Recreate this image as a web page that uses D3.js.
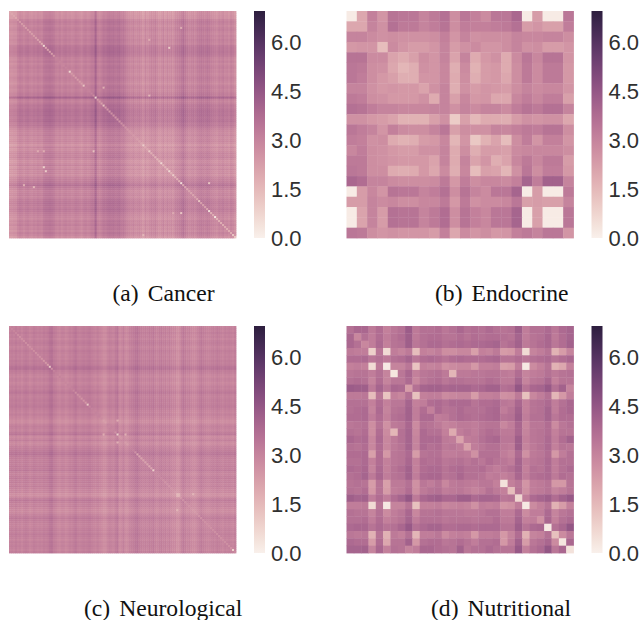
<!DOCTYPE html>
<html>
<head>
<meta charset="utf-8">
<script src="https://cdn.jsdelivr.net/npm/d3@7"></script>
<style>
  html, body { margin: 0; padding: 0; background: #fff; }
  svg { display: block; }
  .cbar text { font-family: "Liberation Sans", sans-serif; font-size: 22px; fill: #303030; }
  .caption { font-family: "Liberation Serif", serif; font-size: 23.6px; fill: #111; }
</style>
</head>
<body>
<svg id="chart" width="644" height="620"></svg>
<script>
const colorbarTicks = [0, 1.5, 3, 4.5, 6];
const colorMax = 6.95;

const endocrine = [
  [0.15,2.0,3.1,2.5,3.5,3.4,3.4,3.0,3.3,3.6,2.7,3.4,3.1,2.8,3.4,3.4,3.9,0.15,2.3,0.15,0.15,3.4],
  [2.0,2.0,3.0,2.6,3.6,3.3,3.3,3.0,3.2,3.5,2.7,3.2,3.1,3.1,3.2,3.3,3.6,2.3,2.5,2.2,2.2,3.2],
  [3.0,3.0,2.8,2.6,2.7,2.6,2.6,2.6,2.7,3.1,2.5,3.0,2.6,2.7,2.7,2.7,3.0,2.9,2.9,3.0,3.0,2.7],
  [2.4,2.5,2.5,1.4,2.8,2.5,2.3,2.3,2.5,3.0,2.3,2.6,2.8,2.5,2.5,2.7,3.0,2.6,2.7,2.3,2.3,2.5],
  [3.5,3.5,2.8,2.8,2.1,1.9,2.2,2.7,2.5,3.0,2.1,3.0,1.9,2.4,2.6,1.9,2.8,3.4,2.9,3.5,3.5,2.5],
  [3.4,3.3,2.7,2.6,2.0,1.6,1.8,2.6,2.5,2.9,1.8,2.8,1.7,2.3,2.4,1.9,2.7,3.3,2.8,3.3,3.3,2.4],
  [3.4,3.2,2.7,2.4,2.2,1.8,1.8,2.5,2.5,2.9,1.9,2.7,1.8,2.3,2.4,2.0,2.7,3.3,2.8,3.3,3.3,2.4],
  [3.0,3.0,2.6,2.4,2.5,2.4,2.4,2.1,2.6,3.0,1.8,2.6,2.3,2.5,2.4,2.3,2.7,3.0,2.8,2.9,2.9,2.5],
  [3.3,3.2,2.7,2.6,2.4,2.4,2.4,2.6,1.9,3.0,2.2,2.9,2.4,2.5,2.0,2.0,2.9,3.2,2.9,3.2,3.2,2.2],
  [3.6,3.5,3.2,3.0,3.0,2.9,2.9,2.9,3.0,3.0,2.6,3.0,2.8,3.0,3.0,2.8,3.2,3.5,3.3,3.6,3.6,3.0],
  [2.6,2.6,2.4,2.3,2.1,1.7,1.7,1.7,2.2,2.6,1.0,2.2,1.5,1.9,1.9,1.8,2.3,2.6,2.5,2.6,2.6,2.0],
  [3.4,3.2,3.0,2.5,3.1,2.8,2.7,2.7,3.0,3.4,2.2,2.7,2.6,2.6,3.0,2.9,3.1,3.3,3.2,3.5,3.5,2.7],
  [3.2,3.1,2.6,2.7,1.9,1.7,1.8,2.3,2.4,2.9,1.6,2.5,1.1,1.7,2.1,1.4,2.7,3.2,2.5,3.1,3.1,2.5],
  [2.9,3.2,2.7,2.6,2.4,2.3,2.3,2.6,2.6,3.0,1.9,2.7,1.8,2.3,2.3,2.2,2.8,2.9,2.9,2.9,2.9,2.7],
  [3.3,3.3,2.7,2.6,2.5,2.4,2.4,2.4,2.1,3.0,1.9,3.0,2.1,2.5,1.8,2.1,2.9,3.3,2.9,3.3,3.3,2.3],
  [3.4,3.3,2.7,2.7,1.9,1.8,1.9,2.4,2.0,2.8,1.8,2.9,1.4,2.2,2.1,1.6,2.6,3.4,2.7,3.2,3.2,2.4],
  [3.9,3.7,3.0,3.0,2.8,2.7,2.7,2.7,2.8,3.3,2.4,3.2,2.7,2.9,2.9,2.8,3.1,4.0,3.2,4.1,4.1,3.0],
  [0.15,2.3,2.9,2.5,3.5,3.4,3.4,3.0,3.2,3.6,2.7,3.5,3.0,2.8,3.4,3.4,4.0,0.15,2.3,0.15,0.15,3.3],
  [2.3,2.3,3.0,2.8,2.9,2.7,2.7,2.9,2.9,3.3,2.4,3.3,2.6,2.8,2.8,2.9,3.4,2.2,2.3,2.2,2.2,3.0],
  [0.15,2.1,3.0,2.3,3.6,3.5,3.5,3.0,3.3,3.7,2.7,3.5,3.1,2.9,3.4,3.4,4.0,0.15,2.2,0.15,0.15,3.4],
  [0.15,2.1,3.0,2.3,3.6,3.5,3.5,3.0,3.3,3.7,2.7,3.5,3.1,2.9,3.4,3.4,4.0,0.15,2.2,0.15,0.15,3.4],
  [3.4,3.3,2.7,2.5,2.6,2.5,2.5,2.5,2.3,3.1,2.0,2.8,2.5,2.7,2.4,2.5,3.1,3.3,3.0,3.4,3.4,2.5]
];

const nutritional = [
  [3.6,3.9,3.9,3.3,3.7,3.1,3.4,3.6,4.3,3.3,3.6,3.6,3.7,3.4,3.6,3.9,3.6,3.7,3.6,3.8,3.6,3.5,3.6,4.2,3.2,3.6,3.6,3.8,3.4,3.8,4.0],
  [3.9,2.9,3.6,3.2,3.7,3.2,3.5,3.7,4.2,3.3,3.6,3.7,3.7,3.5,3.5,3.7,3.5,3.7,3.6,3.7,3.7,3.6,3.5,4.0,3.2,3.5,3.6,3.9,3.3,3.7,4.0],
  [3.9,3.6,2.9,3.2,3.8,3.1,3.5,3.6,4.2,3.4,3.6,3.8,3.8,3.6,3.7,3.8,3.7,3.8,3.8,3.9,4.0,3.5,3.7,4.1,3.3,3.5,3.7,3.9,3.4,3.7,4.1],
  [3.3,3.2,3.2,0.9,3.4,0.6,3.2,3.0,3.3,1.4,3.1,3.0,3.2,2.7,2.7,2.9,2.9,2.2,3.1,3.0,3.3,2.3,2.4,3.2,0.6,3.0,3.2,3.5,1.7,2.3,3.0],
  [3.7,3.7,3.8,3.4,3.6,3.3,3.6,3.7,4.0,3.4,3.7,3.8,3.7,3.5,3.7,3.8,3.7,3.7,3.7,3.8,3.9,3.5,3.5,3.7,3.4,3.6,3.7,3.8,3.5,3.7,3.9],
  [3.1,3.2,3.1,0.6,3.3,0.2,3.0,3.0,3.4,1.2,3.1,3.0,3.1,2.6,2.8,2.9,2.9,2.4,3.1,3.1,3.2,2.2,2.3,3.2,0.2,2.8,3.1,3.5,1.7,2.0,3.1],
  [3.4,3.5,3.5,3.2,3.6,3.0,0.3,3.4,3.9,3.1,3.4,3.5,3.6,3.3,1.6,3.3,3.3,3.4,3.4,3.5,3.5,3.3,3.2,3.7,3.0,3.2,3.3,3.6,3.3,3.5,3.6],
  [3.6,3.7,3.6,3.0,3.7,3.0,3.4,3.4,3.8,2.9,3.4,3.6,3.7,3.4,3.6,3.6,3.5,3.5,3.5,3.7,3.6,3.3,3.3,4.0,3.0,3.4,3.5,3.9,3.1,3.5,3.5],
  [4.3,4.2,4.2,3.3,4.0,3.4,3.9,3.8,2.3,3.6,4.0,4.1,4.1,3.9,4.0,4.0,4.0,3.8,3.9,4.1,4.1,3.6,3.7,4.5,3.5,3.9,4.0,4.4,3.6,4.1,3.0],
  [3.3,3.3,3.4,1.4,3.4,1.2,3.1,2.9,3.6,1.3,3.1,3.2,3.2,2.8,2.9,3.0,3.0,2.3,3.1,3.1,3.2,2.6,2.7,3.3,1.3,2.9,3.2,3.6,1.6,2.4,3.2],
  [3.6,3.6,3.6,3.1,3.7,3.1,3.4,3.4,4.0,3.1,3.2,3.7,3.8,3.6,3.8,3.8,3.8,3.5,3.7,3.7,3.8,3.4,3.3,3.9,3.1,3.5,3.6,3.8,3.2,3.6,3.9],
  [3.6,3.7,3.8,3.0,3.8,3.0,3.5,3.6,4.1,3.2,3.7,3.1,3.8,3.5,3.6,3.8,3.6,3.6,3.6,3.8,3.9,3.2,3.5,4.1,3.1,3.5,3.6,4.0,3.2,3.7,3.9],
  [3.7,3.7,3.8,3.2,3.7,3.1,3.6,3.7,4.1,3.2,3.8,3.8,3.2,3.3,3.6,3.8,3.7,3.6,3.7,3.8,3.9,3.5,3.6,4.2,3.2,3.6,3.6,4.0,3.4,3.7,3.7],
  [3.4,3.5,3.6,2.7,3.5,2.6,3.3,3.4,3.9,2.8,3.6,3.5,3.3,3.0,3.1,3.3,3.3,3.2,3.4,3.5,3.5,2.9,3.2,3.9,2.9,3.4,3.4,3.7,2.8,3.4,3.6],
  [3.6,3.5,3.7,2.7,3.7,2.8,1.6,3.6,4.0,2.9,3.8,3.6,3.6,3.1,1.9,3.2,3.4,3.2,3.5,3.7,3.6,3.3,3.3,3.9,3.0,3.4,3.5,3.7,3.1,3.5,3.5],
  [3.9,3.7,3.8,2.9,3.8,2.9,3.3,3.6,4.0,3.0,3.8,3.8,3.8,3.3,3.2,2.1,3.2,3.3,3.6,3.8,3.9,3.4,3.4,4.2,3.1,3.4,3.5,3.8,3.2,3.7,4.1],
  [3.6,3.5,3.7,2.9,3.7,2.9,3.3,3.5,4.0,3.0,3.8,3.6,3.7,3.3,3.4,3.2,2.2,3.2,3.4,3.6,3.6,3.3,3.2,4.2,3.0,3.3,3.5,3.8,3.1,3.5,3.4],
  [3.7,3.7,3.8,2.2,3.7,2.4,3.4,3.5,3.8,2.3,3.5,3.6,3.6,3.2,3.2,3.3,3.2,2.6,3.6,3.6,3.6,3.2,3.0,3.8,2.6,3.3,3.4,3.7,2.4,3.2,3.6],
  [3.6,3.6,3.8,3.1,3.7,3.1,3.4,3.5,3.9,3.1,3.7,3.6,3.7,3.4,3.5,3.6,3.4,3.6,3.4,3.7,3.5,3.4,3.2,4.0,3.2,3.4,3.5,3.8,3.2,3.6,3.6],
  [3.8,3.7,3.9,3.0,3.8,3.1,3.5,3.7,4.1,3.1,3.7,3.8,3.8,3.5,3.7,3.8,3.6,3.6,3.7,3.4,3.2,3.4,3.6,4.0,3.1,3.6,3.5,3.8,3.2,3.6,3.8],
  [3.6,3.7,4.0,3.3,3.9,3.2,3.5,3.6,4.1,3.2,3.8,3.9,3.9,3.5,3.6,3.9,3.6,3.6,3.5,3.2,3.3,3.1,3.3,3.9,3.2,3.6,3.7,3.8,3.3,3.7,3.6],
  [3.5,3.6,3.5,2.3,3.5,2.2,3.3,3.3,3.6,2.6,3.4,3.2,3.5,2.9,3.3,3.4,3.3,3.2,3.4,3.4,3.1,0.4,3.1,3.4,2.5,3.2,3.3,3.5,2.4,2.4,3.5],
  [3.6,3.5,3.7,2.4,3.5,2.3,3.2,3.3,3.7,2.7,3.3,3.5,3.6,3.2,3.3,3.4,3.2,3.0,3.2,3.6,3.3,3.1,1.4,3.5,2.6,3.2,3.3,3.5,3.0,3.2,3.5],
  [4.2,4.0,4.1,3.2,3.7,3.2,3.7,4.0,4.5,3.3,3.9,4.1,4.2,3.9,3.9,4.2,4.2,3.8,4.0,4.0,3.9,3.4,3.5,0.7,3.2,3.8,4.0,4.2,3.7,4.1,4.4],
  [3.2,3.2,3.3,0.6,3.4,0.2,3.0,3.0,3.5,1.3,3.1,3.1,3.2,2.9,3.0,3.1,3.0,2.6,3.2,3.1,3.2,2.5,2.6,3.2,0.2,2.8,3.1,3.5,1.7,2.3,3.1],
  [3.6,3.5,3.5,3.0,3.6,2.8,3.2,3.4,3.9,2.9,3.5,3.5,3.6,3.4,3.4,3.4,3.3,3.3,3.4,3.6,3.6,3.2,3.2,3.8,2.8,3.2,3.2,3.8,3.0,3.4,3.6],
  [3.6,3.6,3.7,3.2,3.7,3.1,3.3,3.5,4.0,3.2,3.6,3.6,3.6,3.4,3.5,3.5,3.5,3.4,3.5,3.5,3.7,3.3,3.3,4.0,3.1,3.2,2.6,3.9,3.1,3.6,3.8],
  [3.8,3.9,3.9,3.5,3.8,3.5,3.6,3.9,4.4,3.6,3.8,4.0,4.0,3.7,3.7,3.8,3.8,3.7,3.8,3.8,3.8,3.5,3.5,4.2,3.5,3.8,3.9,0.2,3.6,3.9,4.5],
  [3.4,3.3,3.4,1.7,3.5,1.7,3.3,3.1,3.6,1.6,3.2,3.2,3.4,2.8,3.1,3.2,3.1,2.4,3.2,3.2,3.3,2.4,3.0,3.7,1.7,3.0,3.1,3.6,1.3,2.8,3.4],
  [3.8,3.7,3.7,2.3,3.7,2.0,3.5,3.5,4.1,2.4,3.6,3.7,3.7,3.4,3.5,3.7,3.5,3.2,3.6,3.6,3.7,2.4,3.2,4.1,2.3,3.4,3.6,3.9,2.8,0.3,3.9],
  [4.0,4.0,4.1,3.0,3.9,3.1,3.6,3.5,3.0,3.2,3.9,3.9,3.7,3.6,3.5,4.1,3.4,3.6,3.6,3.8,3.6,3.5,3.5,4.4,3.1,3.6,3.8,4.5,3.4,3.9,0.4]
];

// (a) and (c) are too fine to read cell by cell: row/column levels
const cancerLevels = [
  2.5,2.5,2.6,2.6,3.0,3.2,3.1,2.9,3.1,3.2,
  3.0,2.9,3.1,3.0,3.2,3.1,3.0,3.4,3.5,3.5,
  3.6,3.5,3.4,3.1,3.0,3.2,2.9,3.1,3.2,3.0,
  3.1,2.9,3.0,3.2,3.1,3.0,2.8,3.1,3.2,3.0,
  3.1,3.3,3.3,4.2,3.2,3.0,3.2,3.5,3.4,3.6,
  3.7,3.6,3.7,3.5,3.6,3.7,3.4,3.5,3.2,3.0,
  2.9,2.8,3.0,2.7,2.8,2.9,2.7,2.4,2.9,2.6,
  2.8,3.0,2.9,3.1,2.8,2.6,2.7,3.0,2.6,2.9,
  2.7,2.8,2.6,3.0,3.1,3.2,3.4,3.7,3.3,3.1,
  2.9,3.0,3.1,2.9,3.2,3.3,3.4,3.3,3.2,3.4,
  3.3,3.1,3.0,2.9,2.8,3.1,3.0,3.2,2.9,3.0,
  2.8,3.1,2.9,2.6
];
const cancerDiagonal = [
  2.0,2.0,2.0,2.0,2.4,2.4,2.3,2.2,2.3,2.4,
  2.2,2.2,2.3,2.2,2.2,2.0,1.8,0.6,2.0,2.1,
  2.2,2.2,2.4,3.0,3.0,3.0,2.9,2.9,3.0,2.9,
  0.7,2.3,2.3,2.3,2.3,2.3,2.2,1.2,3.0,3.0,
  3.0,3.0,2.7,0.8,2.3,2.3,2.2,1.2,2.3,2.5,
  2.5,2.6,2.6,2.5,2.5,2.6,2.6,2.7,2.6,2.5,
  2.5,2.5,2.5,2.4,2.3,2.3,2.1,1.0,2.1,2.0,
  1.1,1.9,1.9,1.8,1.7,1.6,0.7,1.8,1.7,1.6,
  0.7,1.8,1.0,1.8,1.9,1.9,0.5,2.1,2.1,2.1,
  2.2,2.2,2.2,2.2,2.2,1.3,2.3,2.3,2.2,2.2,
  0.5,1.8,1.9,0.3,1.7,1.8,1.8,1.9,1.9,1.9,
  1.9,1.9,1.2,1.2
];
const cancerSpots = [
  [18, 80, 1.0], [80, 18, 1.0], [101, 86, 1.2], [86, 100, 1.3], [87, 7, 1.8], [88, 12, 1.5],
  [70, 42, 1.3], [42, 70, 1.6], [8, 86, 1.9], [38, 47, 1.8], [101, 82, 2.0], [112, 67, 1.6],
  [70, 14, 1.9], [70, 17, 1.9], [14, 70, 1.9], [78, 17, 0.9]
];

const neuroLevels = [
  3.0,3.1,3.0,3.2,3.0,3.1,2.9,3.1,3.2,3.1,
  2.9,3.0,3.2,3.1,3.0,3.1,3.0,3.2,3.1,3.2,
  3.5,3.6,3.2,3.1,2.9,2.8,3.0,3.0,2.8,2.9,
  3.1,3.0,3.2,3.4,3.1,3.0,3.1,3.2,3.1,3.2,
  3.3,3.1,3.0,2.9,3.1,2.9,2.8,2.6,2.6,2.9,
  3.1,3.0,2.9,3.2,3.4,2.7,2.8,3.1,2.7,2.7,
  3.0,3.1,3.2,3.4,3.5,3.2,3.1,3.0,3.1,3.0,
  3.2,3.1,3.3,3.0,2.9,3.1,3.2,3.0,3.1,2.9,
  3.1,2.9,2.8,2.8,2.5,2.6,3.0,3.3,3.1,2.9,
  3.0,2.8,2.7,2.7,2.9,3.1,3.3,3.1,3.0,2.9,
  2.9,3.0,3.1,3.0,3.2,3.1,3.0,2.9,3.1,3.0,
  3.1,3.0,2.9,3.1
];
const neuroDiagonal = [
  2.9,2.9,2.9,2.9,2.7,2.6,2.6,2.6,2.7,2.6,
  2.6,2.6,2.7,2.6,2.6,2.6,2.5,2.4,2.4,2.2,
  1.1,2.7,3.0,3.1,3.0,3.0,3.0,3.0,2.9,3.0,
  3.0,3.0,2.9,2.7,2.6,2.6,2.5,2.5,2.4,1.0,
  3.0,3.0,3.0,3.0,3.0,3.0,2.8,2.2,2.2,3.0,
  3.0,3.0,3.0,2.6,0.9,2.3,2.5,3.0,2.3,2.3,
  3.0,3.1,3.1,2.7,2.1,2.1,2.2,2.2,2.2,2.2,
  2.1,2.1,1.0,3.0,3.0,3.0,3.0,2.8,2.7,2.6,
  2.7,2.6,2.6,2.5,1.6,1.8,2.6,2.8,2.7,2.7,
  2.7,2.6,2.4,2.4,2.6,2.7,2.8,2.8,2.7,2.7,
  2.7,2.7,2.8,2.7,2.8,2.7,2.7,2.7,2.7,2.7,
  2.7,2.6,0.8,2.8
];
const neuroSpots = [[47, 54, 1.9], [54, 47, 1.9], [58, 54, 1.8], [54, 58, 1.8], [84, 92, 1.7], [92, 84, 1.7], [84, 85, 1.7], [85, 84, 1.7]];

function fromLevels(levels, diagonal, spots, centre) {
  const m = levels.map((a, i) => levels.map((b, j) => i === j ? diagonal[i] : centre + 0.8 * (a + b - 2 * centre)));
  spots.forEach(([r, c, v]) => { m[r][c] = v; });
  return m;
}

const panels = [
  { name: 'Cancer', tag: '(a)', matrix: fromLevels(cancerLevels, cancerDiagonal, cancerSpots, 3.1), x: 9, y: 11, labelX: 112.5 },
  { name: 'Endocrine', tag: '(b)', matrix: endocrine, x: 346.5, y: 11, labelX: 435 },
  { name: 'Neurological', tag: '(c)', matrix: fromLevels(neuroLevels, neuroDiagonal, neuroSpots, 3.0), x: 9, y: 326, labelX: 84 },
  { name: 'Nutritional', tag: '(d)', matrix: nutritional, x: 346.5, y: 326, labelX: 431 }
];

const size = 227;
const barGap = 18;
const barWidth = 11;

// seaborn cubehelix_palette(light=.95, dark=.15, as_cmap=True)
function cubehelix(x) {
  const a = 0.8 * x * (1 - x) / 2;
  const phi = 2 * Math.PI * 0.4 * x;
  const c = Math.cos(phi), s = Math.sin(phi);
  return d3.rgb(
    255 * (x + a * (-0.14861 * c + 1.78277 * s)),
    255 * (x + a * (-0.29227 * c - 0.90649 * s)),
    255 * (x + a * (1.97294 * c))
  ).formatRgb();
}
const toHelix = d3.scaleLinear().domain([0, colorMax]).range([0.95, 0.15]).clamp(true);
const color = v => cubehelix(toHelix(v));

const svg = d3.select('#chart');

const defs = svg.append('defs');
const grad = defs.append('linearGradient').attr('id', 'cbar-grad')
  .attr('x1', 0).attr('x2', 0).attr('y1', 1).attr('y2', 0);
d3.range(0, 1.001, 0.05).forEach(t => {
  grad.append('stop').attr('offset', t).attr('stop-color', color(t * colorMax));
});

panels.forEach(p => {
  const g = svg.append('g').attr('transform', `translate(${p.x}, ${p.y})`);
  const idx = d3.range(p.matrix.length);
  const band = d3.scaleBand().domain(idx).range([0, size]);

  g.selectAll('g.row')
    .data(p.matrix)
    .join('g')
    .attr('class', 'row')
    .attr('transform', (d, i) => `translate(0, ${band(i)})`)
    .selectAll('rect')
    .data(d => d)
    .join('rect')
    .attr('x', (d, j) => band(j))
    .attr('width', band.bandwidth() + 0.4)
    .attr('height', band.bandwidth() + 0.4)
    .attr('fill', d => color(d));

  // colour bar
  const barX = size + barGap;
  const y = d3.scaleLinear().domain([0, colorMax]).range([size, 0]);
  const bar = g.append('g').attr('class', 'cbar').attr('transform', `translate(${barX}, 0)`);
  bar.append('rect')
    .attr('width', barWidth)
    .attr('height', size)
    .attr('fill', 'url(#cbar-grad)');
  const axis = d3.axisRight(y).tickValues(colorbarTicks).tickFormat(d3.format('.1f')).tickSize(0).tickPadding(6);
  bar.append('g').attr('transform', `translate(${barWidth}, 0)`).call(axis).call(a => a.select('.domain').remove());
  bar.selectAll('text').attr('font-family', null).attr('font-size', null);

  // caption
  const cap = svg.append('text').attr('class', 'caption')
    .attr('x', p.labelX).attr('y', p.y + 290);
  cap.append('tspan').text(p.tag);
  cap.append('tspan').attr('dx', 9).text(p.name);
});
</script>
</body>
</html>
